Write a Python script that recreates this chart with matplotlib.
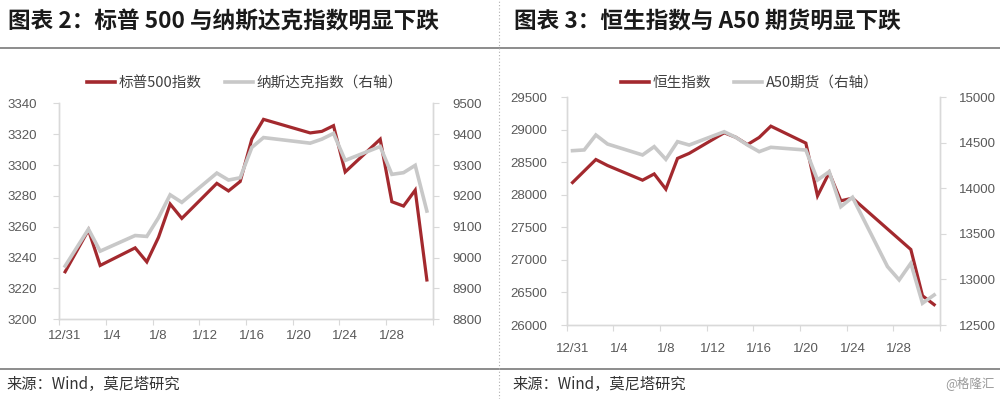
import matplotlib
matplotlib.use("Agg")
import matplotlib.pyplot as plt
import pandas as pd
import numpy as np
from matplotlib.lines import Line2D

plt.rcParams['font.family'] = ['Noto Sans CJK SC', 'DejaVu Sans']

# ---------------- data ----------------
us_dates = ["2019-12-31", "2020-01-02", "2020-01-03", "2020-01-06", "2020-01-07", "2020-01-08",
            "2020-01-09", "2020-01-10", "2020-01-13", "2020-01-14", "2020-01-15", "2020-01-16",
            "2020-01-17", "2020-01-21", "2020-01-22", "2020-01-23", "2020-01-24", "2020-01-27",
            "2020-01-28", "2020-01-29", "2020-01-30", "2020-01-31"]
spx = [3230.8, 3257.9, 3234.9, 3246.3, 3237.2, 3253.1, 3274.7, 3265.4, 3288.1, 3283.2, 3289.3,
       3316.8, 3329.6, 3320.8, 3321.8, 3325.5, 3295.5, 3316.7, 3276.2, 3273.4, 3283.7, 3225.5]
ndx = [8972.6, 9092.2, 9020.8, 9071.5, 9068.6, 9129.2, 9203.4, 9178.9, 9273.9, 9251.3, 9258.7,
       9357.1, 9388.9, 9370.8, 9383.8, 9402.5, 9314.9, 9360.0, 9269.7, 9275.2, 9298.9, 9150.9]

hsi_dates = ["2019-12-31", "2020-01-02", "2020-01-03", "2020-01-06", "2020-01-07", "2020-01-08",
             "2020-01-09", "2020-01-10", "2020-01-13", "2020-01-14", "2020-01-15", "2020-01-16",
             "2020-01-17", "2020-01-20", "2020-01-21", "2020-01-22", "2020-01-23", "2020-01-24",
             "2020-01-29", "2020-01-30", "2020-01-31"]
hsi = [28189.8, 28543.5, 28451.5, 28226.2, 28322.1, 28087.9, 28561.0, 28638.2, 28954.9, 28885.1,
       28773.6, 28883.0, 29056.4, 28795.9, 27985.3, 28341.0, 27909.1, 27949.6, 27160.6, 26449.1,
       26312.6]

a50_dates = ["2019-12-31", "2020-01-01", "2020-01-02", "2020-01-03", "2020-01-06", "2020-01-07",
             "2020-01-08", "2020-01-09", "2020-01-10", "2020-01-13", "2020-01-14", "2020-01-15",
             "2020-01-16", "2020-01-17", "2020-01-20", "2020-01-21", "2020-01-22", "2020-01-23",
             "2020-01-24", "2020-01-27", "2020-01-28", "2020-01-29", "2020-01-30", "2020-01-31"]
a50 = [14414, 14422, 14586, 14487, 14367, 14458, 14319, 14513, 14476, 14622, 14560, 14476,
       14403, 14451, 14421, 14092, 14183, 13799, 13902, 13141, 12995, 13178, 12739, 12830]

tick_labels = ["12/31", "1/4", "1/8", "1/12", "1/16", "1/20", "1/24", "1/28"]

title_left = "图表 2：标普 500 与纳斯达克指数明显下跌"
title_right = "图表 3：恒生指数与 A50 期货明显下跌"
leg_left = ["标普500指数", "纳斯达克指数（右轴）"]
leg_right = ["恒生指数", "A50期货（右轴）"]
source = "来源：Wind，莫尼塔研究"
watermark = "@格隆汇"

# ---------------- style ----------------
RED = "#A3292E"
GRAY = "#C8C8C8"
SPINE = "#D9D9D9"
TXT = "#595959"
W, H = 1000, 399
base = pd.Timestamp("2019-12-31")


def xpos(dates):
    return np.array([(pd.Timestamp(d) - base).days + 0.5 for d in dates])


fig = plt.figure(figsize=(W / 100, H / 100), dpi=100)
fig.patch.set_facecolor("white")


def box(x0, y0, x1, y1):
    return [x0 / W, 1 - y1 / H, (x1 - x0) / W, (y1 - y0) / H]


def style_axes(ax, ax2, yl, yr, pad_l, pad_r, xpad):
    for a in (ax, ax2):
        a.spines['top'].set_visible(False)
        for s in ('left', 'right', 'bottom'):
            a.spines[s].set_color(SPINE)
            a.spines[s].set_linewidth(1.0)
    ax.set_xlim(0, 32)
    ax.set_xticks(np.arange(0, 33, 4))
    ax.set_xticklabels([])
    ax.set_xticks(np.arange(0, 29, 4) + 0.5, minor=True)
    ax.set_xticklabels(tick_labels, minor=True)
    ax.tick_params(axis='x', which='major', length=4, color=SPINE, direction='out')
    ax.tick_params(axis='x', which='minor', length=0, pad=xpad, labelsize=9.5, labelcolor=TXT)
    ax.set_yticks(yl)
    ax.set_ylim(yl[0], yl[-1])
    ax.tick_params(axis='y', length=4, color=SPINE, pad=pad_l, labelsize=9.5, labelcolor=TXT)
    ax2.set_yticks(yr)
    ax2.set_ylim(yr[0], yr[-1])
    ax2.tick_params(axis='y', length=4, color=SPINE, pad=pad_r, labelsize=9.5, labelcolor=TXT)
    for lab in ax.get_xticklabels(minor=True) + ax.get_yticklabels() + ax2.get_yticklabels():
        lab.set_family(['Liberation Sans', 'DejaVu Sans'])


# ---- left panel ----
axL = fig.add_axes(box(59.3, 103.3, 432.7, 319.3))
axL2 = axL.twinx()
axL.plot(xpos(us_dates), spx, color=RED, lw=2.3, solid_joinstyle='miter')
axL2.plot(xpos(us_dates), ndx, color=GRAY, lw=2.6, solid_joinstyle='miter')
style_axes(axL, axL2, np.arange(3200, 3341, 20), np.arange(8800, 9501, 100), 12, 10, 8)

# ---- right panel ----
axR = fig.add_axes(box(566.7, 97.3, 940, 325))
axR2 = axR.twinx()
axR.plot(xpos(hsi_dates), hsi, color=RED, lw=2.3, solid_joinstyle='miter')
axR2.plot(xpos(a50_dates), a50, color=GRAY, lw=2.6, solid_joinstyle='miter')
style_axes(axR, axR2, np.arange(26000, 29501, 500), np.arange(12500, 15001, 500), 10, 10, 13)

# ---- legends ----
for ax, labels, cx in ((axL, leg_left, 245 / W), (axR, leg_right, 750 / W)):
    handles = [Line2D([], [], color=RED, lw=2.6), Line2D([], [], color=GRAY, lw=2.6)]
    fig.legend(handles, labels, loc='center', bbox_to_anchor=(cx, 1 - 83 / H), ncol=2,
               frameon=False, fontsize=10.5, handlelength=1.9, handletextpad=0.25,
               columnspacing=1.6, labelcolor="#404040")

# ---- titles, separators, source ----
fig.text(8 / W, 1 - 22 / H, title_left, fontsize=16.3, fontweight='bold', color="#1a1a1a",
         va='center', ha='left')
fig.text(514 / W, 1 - 22 / H, title_right, fontsize=16.3, fontweight='bold', color="#1a1a1a",
         va='center', ha='left')
fig.add_artist(Line2D([0, 1], [1 - 47.5 / H, 1 - 47.5 / H], color="#8c8c8c", lw=1.4,
                      transform=fig.transFigure))
fig.add_artist(Line2D([0, 1], [1 - 368.5 / H, 1 - 368.5 / H], color="#8c8c8c", lw=1.4,
                      transform=fig.transFigure))
fig.add_artist(Line2D([499 / W, 499 / W], [0, 1], color="#b0b0b0", lw=0.8, ls=(0, (1, 2)),
                      transform=fig.transFigure))
fig.text(6 / W, 1 - 384 / H, source, fontsize=11, color="#333333", va='center', ha='left')
fig.text(512 / W, 1 - 384 / H, source, fontsize=11, color="#333333", va='center', ha='left')
fig.text(995 / W, 1 - 383 / H, watermark, fontsize=9, color="#9a9a9a", va='center', ha='right')

fig.savefig("out.png", dpi=100, facecolor="white")
